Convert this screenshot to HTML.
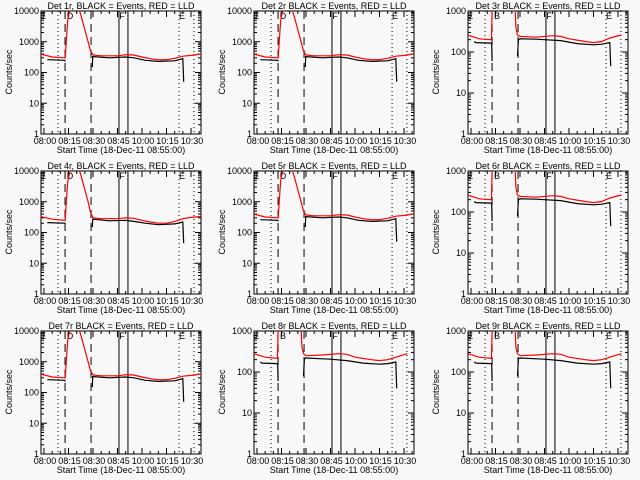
<!DOCTYPE html>
<html><head><meta charset="utf-8"><style>
html,body{margin:0;padding:0;background:#f8f8f8;}
svg{display:block;}
text{font-family:"Liberation Sans",sans-serif;font-size:9px;fill:#000;}
</style></head><body>
<svg id="chart" width="640" height="480" viewBox="0 0 640 480"></svg>
<script>
// minutes after 08:00
const redT1 = [-2, 5, 13, 13.6, 14.5, 15.5, 17, 21, 23, 25, 27, 28.5, 30, 35, 45, 50, 55, 60, 65, 70, 75, 80, 85, 90, 96];
const blkT1 = [2, 12.8, 13, null, 29.6, 29.8, 30, 40, 50, 55, 62, 70, 80, 85, 85.5];
const redT2 = [-2, 5, 12.5, 13, 13.5, 27, 27.5, 28.5, 30, 40, 50, 55, 60, 70, 75, 80, 85, 92];
const blkT2 = [2, 3, 12.5, 12.7, 12.9, null, 28.5, 29, 30, 40, 45, 55, 65, 75, 80, 85, 85.5];

const redA = [[400,320,300,1000,5000,9000,14000,14000,6000,2500,1000,500,370,350,350,380,370,320,280,260,260,290,340,360,400],
              [330,270,250,900,4500,8000,14000,14000,6000,2500,1000,450,300,280,280,300,290,250,220,200,200,230,280,310,330]];
const blkA = [[260,250,230,null,150,330,330,300,320,300,250,230,240,280,50],
              [210,200,190,null,150,270,270,240,250,230,200,180,190,220,45]];
const redB = [[260,210,200,1200,1200,1200,400,260,240,230,250,240,210,180,170,180,220,260],
              [280,230,215,1200,1200,1200,400,280,250,260,280,270,230,200,190,200,230,280]];
const blkB = [[180,170,165,150,60,null,80,200,210,205,200,190,160,150,155,170,45],
              [175,165,160,150,60,null,80,210,220,210,205,190,165,155,160,175,40]];

const titles = ["Det 1r, BLACK = Events, RED = LLD","Det 2r BLACK = Events, RED = LLD","Det 3r BLACK = Events, RED = LLD",
  "Det 4r, BLACK = Events, RED = LLD","Det 5r BLACK = Events, RED = LLD","Det 6r BLACK = Events, RED = LLD",
  "Det 7r BLACK = Events, RED = LLD","Det 8r BLACK = Events, RED = LLD","Det 9r BLACK = Events, RED = LLD"];
const panelType = [0,0,1,0,0,1,0,1,1]; // 0 -> max 10000, 1 -> max 1000
const panelVar = [0,0,0,1,0,0,0,1,1];
const midLabel = ["D","D","B","D","D","B","D","B","B"];
const xTickLabels = ["08:00","08:15","08:30","08:45","10:00","10:15","10:30"];
const xTickMinutes = [0,15,30,45,60,75,90];
const vDotted = [8.6, 82.7, 91.8];
const vDashed = [12.9, 28.8];
const vSolid = [45.9, 51.4];

const NS = "http://www.w3.org/2000/svg";
const svg = document.getElementById("chart");
function el(tag, attrs, parent){const e=document.createElementNS(NS,tag);for(const k in attrs)e.setAttribute(k,attrs[k]);parent.appendChild(e);return e;}

const L=41,R=201,T=11,B=134;
function xs(t){return 44 + t*24.5/15;}

for(let p=0;p<9;p++){
  const col=p%3,row=Math.floor(p/3);
  const ox=[0,213,427][col], oy=row*160;
  const g=el("g",{transform:`translate(${ox},${oy})`},svg);
  
  
  const type=panelType[p];
  const maxDec = type===0?4:3;
  function ys(v){return B - Math.log10(v)/maxDec*(B-T);}
  const clipId="c"+p;
  const cp=el("clipPath",{id:clipId},g); el("rect",{x:L,y:T,width:R-L,height:B-T},cp);

  const tt=el("text",{x:121,y:9,"text-anchor":"middle"},g); tt.textContent=titles[p];
  
  
  const yt=el("text",{x:12,y:72,"text-anchor":"middle",transform:"rotate(-90 12 72)","font-size":"8"},g); yt.textContent="Counts/sec";
  
  
  const xt=el("text",{x:121,y:153,"text-anchor":"middle"},g); xt.textContent="Start Time (18-Dec-11 08:55:00)";
  
  

  const box=el("rect",{x:L,y:T,width:R-L,height:B-T,fill:"none",stroke:"#000","stroke-width":1},g);
  
  

  for(let d=0;d<=maxDec;d++){
    const y=ys(Math.pow(10,d));
    el("line",{x1:L,x2:L+6,y1:y,y2:y,stroke:"#000"},g);
    el("line",{x1:R-6,x2:R,y1:y,y2:y,stroke:"#000"},g);
    const lab=el("text",{x:L-2,y:y+3,"text-anchor":"end","font-size":"8"},g); lab.textContent=String(Math.pow(10,d));
    
    
    if(d<maxDec){for(let m=2;m<10;m++){const yy=ys(m*Math.pow(10,d));
      el("line",{x1:L,x2:L+3,y1:yy,y2:yy,stroke:"#000"},g);el("line",{x1:R-3,x2:R,y1:yy,y2:yy,stroke:"#000"},g);}}
  }
  for(let m=0;m<=95;m+=5){const x=xs(m);const major=m%15===0;const h=major?6:3;
    el("line",{x1:x,x2:x,y1:B,y2:B-h,stroke:"#000"},g);el("line",{x1:x,x2:x,y1:T,y2:T+h,stroke:"#000"},g);}
  xTickMinutes.forEach((m,i)=>{const lab=el("text",{x:xs(m)+1,y:144,"text-anchor":"middle","font-size":"8"},g);lab.textContent=xTickLabels[i];
    
    });

  vDotted.forEach(t=>{const l=el("line",{x1:xs(t),x2:xs(t),y1:T,y2:B,stroke:"#000","stroke-dasharray":"1,3"},g);
    });
  vDashed.forEach(t=>{const l=el("line",{x1:xs(t),x2:xs(t),y1:T,y2:B,stroke:"#000","stroke-dasharray":"8,5"},g);
    });
  vSolid.forEach(t=>{const l=el("line",{x1:xs(t),x2:xs(t),y1:T,y2:B,stroke:"#000"},g);
    });

  [["E",43],[midLabel[p],70],["F",122],["E",182]].forEach(([s,x])=>{
    const lab=el("text",{x:x,y:19,"text-anchor":"middle","font-size":"10"},g);lab.textContent=s;
    });

  const v=panelVar[p];
  const rT = type===0?redT1:redT2, bT = type===0?blkT1:blkT2;
  const rV = type===0?redA[v]:redB[v], bV = type===0?blkA[v]:blkB[v];
  function pathD(ts,vs){let d="",pen=false;for(let i=0;i<ts.length;i++){
    if(ts[i]===null||vs[i]===null||vs[i]===undefined){pen=false;continue;}
    d+=(pen?"L":"M")+xs(ts[i]).toFixed(1)+","+ys(vs[i]).toFixed(1);pen=true;}return d;}
  const bl=el("path",{d:pathD(bT,bV),fill:"none",stroke:"#000","stroke-width":1.2,"clip-path":`url(#${clipId})`},g);
  
  const rl=el("path",{d:pathD(rT,rV),fill:"none",stroke:"#ff0000","stroke-width":1.2,"clip-path":`url(#${clipId})`},g);
  
}
</script>
</body></html>
